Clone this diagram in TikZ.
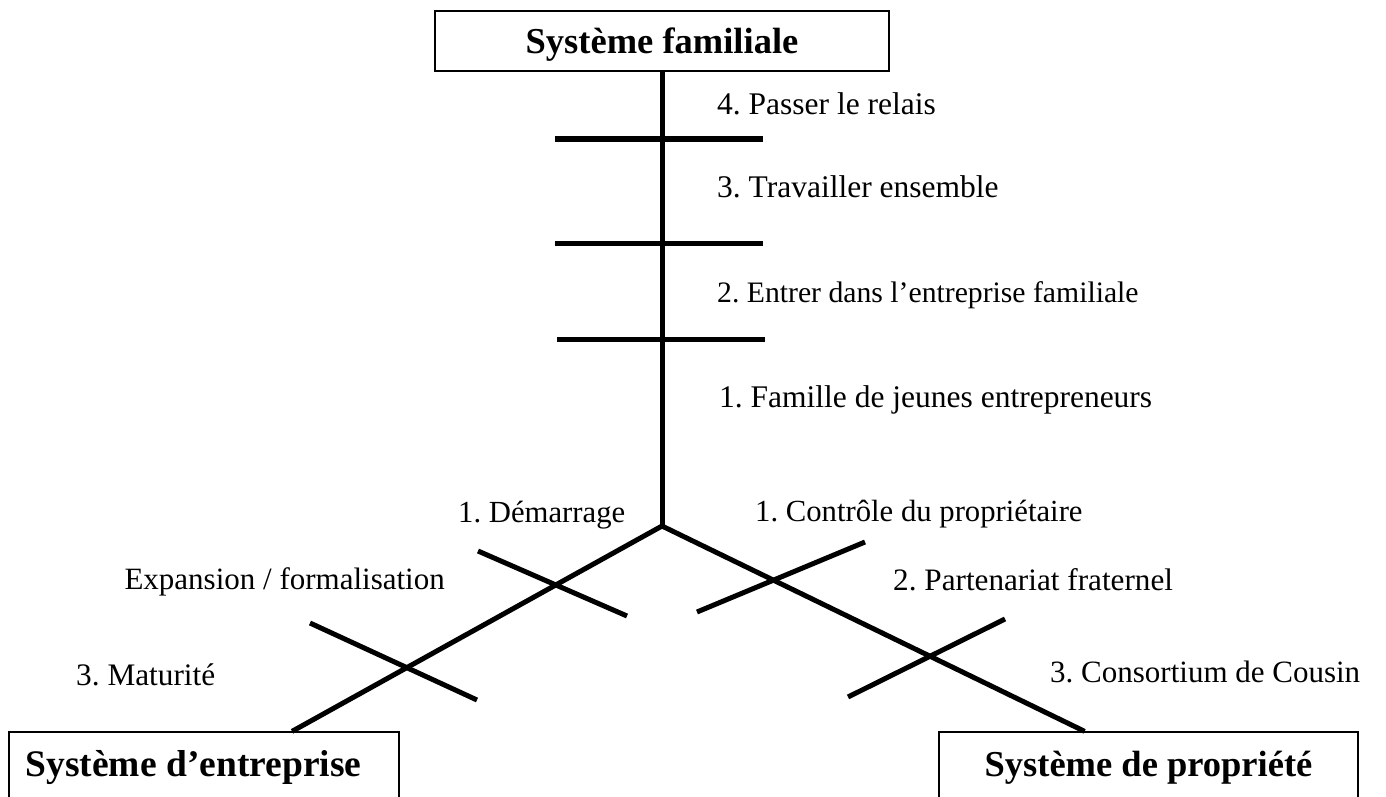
\documentclass[tikz,border=0pt]{standalone}
\usepackage{fontspec}
\setmainfont{Liberation Serif}
\usetikzlibrary{calc}
\frenchspacing
\begin{document}
\begin{tikzpicture}[x=1pt,y=-1pt,
  bar/.style={line width=5pt},
  sysbox/.style={draw,line width=1.3pt,inner sep=0pt,anchor=base,
    font=\fontsize{36.5}{40}\selectfont\bfseries},
  lab/.style={inner sep=0pt,font=\fontsize{#1}{36}\selectfont},
  labl/.style={lab=#1,anchor=base west},
  labr/.style={lab=#1,anchor=base east},
  labl/.default=31.5, labr/.default=31.5]
\useasboundingbox (0,0) rectangle (1386,797);
\clip (0,0) rectangle (1386,797);

% the three systems
\node[sysbox,minimum width=454,text height=43,text depth=17] (fam) at (662,54) {Système familiale};
\node[sysbox,minimum width=390,text height=44,text depth=40,
  font=\fontsize{37.5}{40}\selectfont\bfseries] (ent) at (204,776) {Système d’entreprise\hspace*{21pt}};
\node[sysbox,minimum width=419,text height=44,text depth=40] (prop) at (1148.5,776) {Système de propriété};

% trunk and the two branches
\coordinate (j) at (662,526);
\draw[bar] (fam.south) -- (j);
\draw[bar] (j) -- ($(ent.north west)!0.725!(ent.north east)$);
\draw[bar] (j) -- ($(prop.north west)!0.348!(prop.north east)$);

% stage marks on the family axis
\draw[bar] (555,139) -- (763,139);
\draw[bar] (555,243) -- (763,243);
\draw[bar] (557,339) -- (765,339);

% stage marks on the business axis
\draw[bar] (478,551) -- (627,616);
\draw[bar] (310,623) -- (477,700);

% stage marks on the ownership axis
\draw[bar] (697,612) -- (865,542);
\draw[bar] (848,697) -- (1005,619);

% stage names
\node[labl] (f4) at (717,114) {4. Passer le relais};
\node[labl] (f3) at (717,197) {3. Travailler ensemble};
\node[labl=29.7] (f2) at (717,302) {2. Entrer dans l’entreprise familiale};
\node[labl] (f1) at (719,407) {1. Famille de jeunes entrepreneurs};

\node[labl=30.7] (e1) at (458,522) {1. Démarrage};
\node[labr=31] (e2) at (445,589) {Expansion / formalisation};
\node[labl=31.3] (e3) at (76,685) {3. Maturité};

\node[labl=30.7] (p1) at (755,521) {1. Contrôle du propriétaire};
\node[labl=31.2] (p2) at (893,590) {2. Partenariat fraternel};
\node[labl=31] (p3) at (1050,682) {3. Consortium de Cousin};
\end{tikzpicture}
\end{document}
